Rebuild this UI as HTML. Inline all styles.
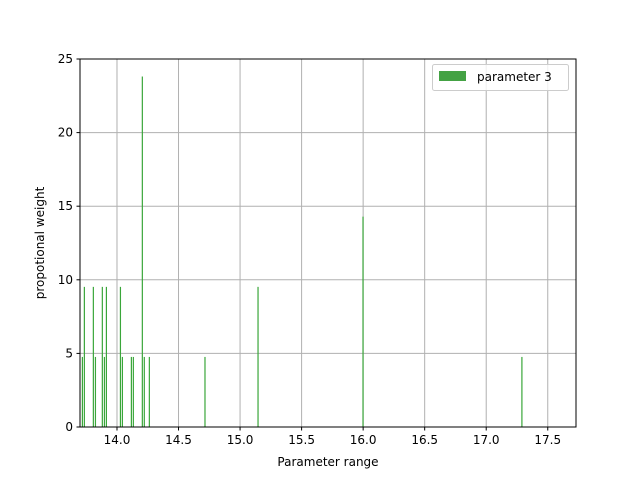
<!DOCTYPE html>
<html><head><meta charset="utf-8"><style>
body{margin:0;background:#fff;font-family:"Liberation Sans","DejaVu Sans",sans-serif}
text{font-family:"DejaVu Sans","Liberation Sans",sans-serif}
</style></head><body>
<svg id="chart" width="640" height="480" xmlns="http://www.w3.org/2000/svg"></svg>
<script>
const categories=[13.719,13.735,13.808,13.825,13.881,13.898,13.914,14.028,14.044,14.117,14.133,14.206,14.222,14.263,14.715,15.146,15.999,17.290];
const values=[4.76,9.52,9.52,4.76,9.52,4.76,9.52,9.52,4.76,4.76,4.76,23.81,4.76,4.76,4.76,9.52,14.29,4.76];
const xTicks=[14.0,14.5,15.0,15.5,16.0,16.5,17.0,17.5];
const yTicks=[0,5,10,15,20,25];
const X0=80,X1=576,Y0=427,Y1=59,xmin=13.6995,xmax=17.7295,ymax=25;
const sx=v=>X0+(v-xmin)/(xmax-xmin)*(X1-X0);
const sy=v=>Y0-v/ymax*(Y0-Y1);
const svg=document.getElementById('chart');const NS='http://www.w3.org/2000/svg';
function mk(t,a,p){const e=document.createElementNS(NS,t);for(const k in a)e.setAttribute(k,a[k]);(p||svg).appendChild(e);return e;}
xTicks.forEach(t=>{const x=sx(t);
const g=mk('line',{x1:x,x2:x,y1:Y1,y2:Y0,stroke:'#b0b0b0','stroke-width':1});


mk('line',{x1:x,x2:x,y1:Y0,y2:Y0+3.5,stroke:'#000'});
const l=mk('text',{x:x,y:Y0+17,'text-anchor':'middle','font-size':12});l.textContent=t.toFixed(1);

});
yTicks.forEach(t=>{const y=sy(t);
const g=mk('line',{x1:X0,x2:X1,y1:y,y2:y,stroke:'#b0b0b0','stroke-width':1});


mk('line',{x1:X0-3.5,x2:X0,y1:y,y2:y,stroke:'#000'});
const l=mk('text',{x:X0-7,y:y+4,'text-anchor':'end','font-size':12});l.textContent=t;

});
categories.forEach((c,i)=>{const x=sx(c);
const r=mk('rect',{x:x-0.6,y:sy(values[i]),width:1.2,height:Y0-sy(values[i]),fill:'#3aa63a'});

});
const fr=mk('rect',{x:X0,y:Y1,width:X1-X0,height:Y0-Y1,fill:'none',stroke:'#000','stroke-width':1});


</script>
<svg style="position:absolute;left:0;top:0" width="640" height="480" xmlns="http://www.w3.org/2000/svg">
<text x="328" y="466" text-anchor="middle" font-size="12">Parameter range</text>
<text x="44" y="243" text-anchor="middle" font-size="12" transform="rotate(-90 44 243)">propotional weight</text>
<g>
<rect x="432.5" y="64.5" width="136" height="26" rx="2" fill="#fff" fill-opacity="0.8" stroke="#ccc"/>
<rect x="439" y="71" width="27" height="10" fill="#44a244"/>
<text x="477" y="81" font-size="12">parameter 3</text>
</g>
</svg>
</body></html>
